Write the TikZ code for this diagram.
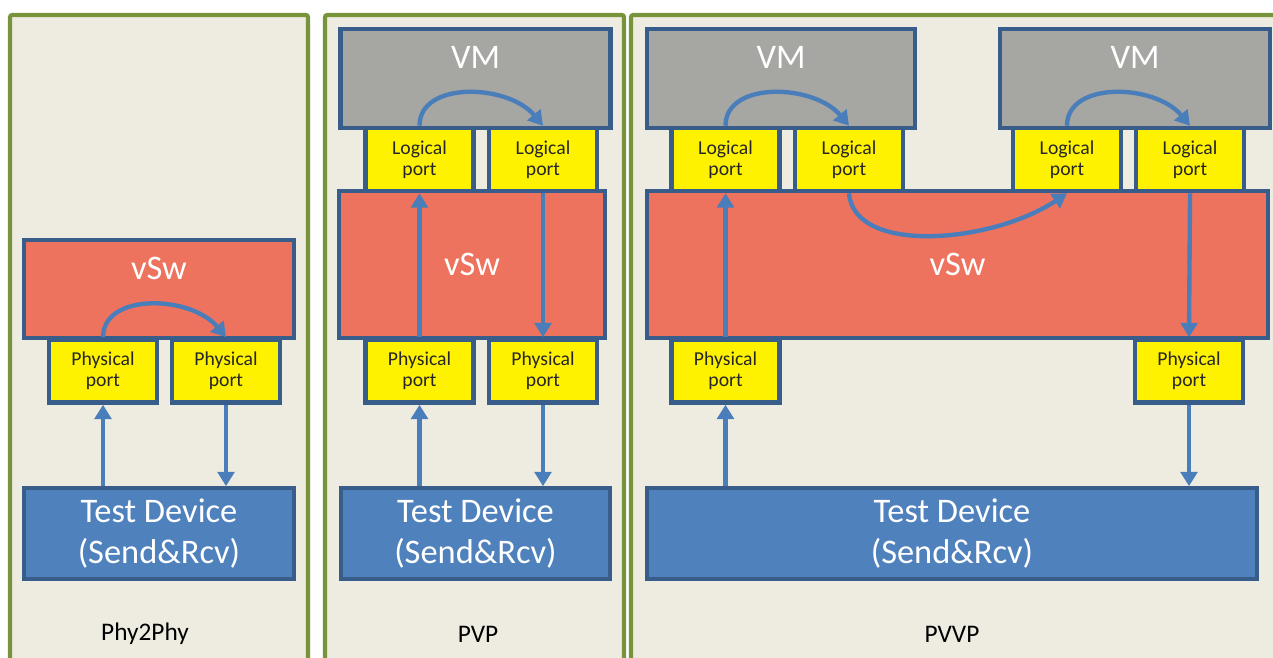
\documentclass[tikz,border=0pt]{standalone}
\usepackage{fontspec}
\setmainfont{Carlito}
\usetikzlibrary{arrows.meta, positioning}

\definecolor{panelgreen}{HTML}{77933C}
\definecolor{panelbg}{HTML}{EEEBE1}
\definecolor{boxblue}{HTML}{385D8A}
\definecolor{devblue}{HTML}{4F81BD}
\definecolor{arrowblue}{HTML}{4A7EBB}
\definecolor{vswred}{HTML}{EE735E}
\definecolor{vmgray}{HTML}{A6A6A2}

\begin{document}
\begin{tikzpicture}[x=0.025cm, y=-0.025cm]
    % --- Canvas ---
    \useasboundingbox (0,0) rectangle (1273,657);
    \clip (0,0) rectangle (1273,657);
    \fill[white] (0,0) rectangle (1273,657);

    % --- Styles ---
    \tikzstyle{panel_frame}=[draw=panelgreen, fill=panelbg, line width=2.9pt, rounded corners=1.5pt]
    \tikzstyle{big_text}=[text=white, font=\fontsize{24.5}{29.5}\selectfont, align=center]
    \tikzstyle{vsw_box}=[draw=boxblue, fill=vswred, line width=3.2pt, rectangle, inner sep=0pt, big_text]
    \tikzstyle{vm_box}=[draw=boxblue, fill=vmgray, line width=3.2pt, rectangle, inner sep=0pt,
        minimum width=6.75cm, minimum height=2.475cm]
    \tikzstyle{dev_box}=[draw=boxblue, fill=devblue, line width=2.6pt, rectangle, inner sep=0pt,
        minimum height=2.275cm, big_text]
    \tikzstyle{port_box}=[draw=boxblue, fill=yellow, line width=3.2pt, rectangle, inner sep=0pt,
        minimum width=2.7cm, minimum height=1.575cm, align=center,
        font=\fontsize{14}{15}\selectfont, text=black!85]
    \tikzstyle{top_text}=[big_text, anchor=center, yshift=-0.76cm]
    \tikzstyle{case_name}=[font=\fontsize{18}{22}\selectfont, text=black]
    \tikzstyle{link_arrow}=[-{Triangle[length=0.36cm, width=0.42cm]}, draw=arrowblue, line width=3.1pt]

    % --- 1. Panels ---
    \draw[panel_frame] (10,15) rectangle (308,700);
    \draw[panel_frame] (325,15) rectangle (624,700);
    \draw[panel_frame] (631,15) rectangle (1300,700);

    % --- 2. Phy2Phy ---
    \node[vsw_box, minimum width=6.75cm, minimum height=2.45cm,
        label={[top_text]north:vSw}] (vsw1) at (159,289) {};
    \node[port_box] (pp1a) at (103,371) {Physical\\port};
    \node[port_box] (pp1b) at (226,371) {Physical\\port};
    \node[dev_box, minimum width=6.75cm] (td1) at (159,533.5) {Test Device\\(Send\&Rcv)};
    \node[case_name] (name1) at (145,634) {Phy2Phy};

    \draw[link_arrow] (pp1a.south |- td1.north) -- (pp1a.south);
    \draw[link_arrow] (pp1b.south) -- (pp1b.south |- td1.north);
    \draw[link_arrow] (pp1a.north) .. controls +(0,-45) and +(-35,-42) .. (pp1b.north);

    % --- 3. PVP ---
    \node[vm_box, label={[top_text]north:VM}] (vm2) at (475.5,78.5) {};
    \node[vsw_box, minimum width=6.65cm, minimum height=3.675cm] (vsw2) at (472,264.5) {vSw};
    \node[port_box] (lp2a) at (419.5,159.5) {Logical\\port};
    \node[port_box] (lp2b) at (543,159.5) {Logical\\port};
    \node[port_box] (pp2a) at (419.5,371) {Physical\\port};
    \node[port_box] (pp2b) at (543,371) {Physical\\port};
    \node[dev_box, minimum width=6.725cm] (td2) at (475.5,533.5) {Test Device\\(Send\&Rcv)};
    \node[case_name] (name2) at (478,634) {PVP};

    \draw[link_arrow] (pp2a.south |- td2.north) -- (pp2a.south);
    \draw[link_arrow] (pp2a.north) -- (lp2a.south);
    \draw[link_arrow] (lp2a.north) .. controls +(0,-45) and +(-35,-42) .. (lp2b.north);
    \draw[link_arrow] (lp2b.south) -- (pp2b.north);
    \draw[link_arrow] (pp2b.south) -- (pp2b.south |- td2.north);

    % --- 4. PVVP ---
    \node[vm_box, minimum width=6.7cm, label={[top_text]north:VM}] (vm3a) at (781,78.5) {};
    \node[vm_box, label={[top_text]north:VM}] (vm3b) at (1135,78.5) {};
    \node[vsw_box, minimum width=15.525cm, minimum height=3.675cm] (vsw3) at (957.5,264.5) {vSw};
    \node[port_box] (lp3a) at (725.5,159.5) {Logical\\port};
    \node[port_box] (lp3b) at (849,159.5) {Logical\\port};
    \node[port_box] (lp3c) at (1067,159.5) {Logical\\port};
    \node[port_box] (lp3d) at (1190,159.5) {Logical\\port};
    \node[port_box] (pp3a) at (725.5,371) {Physical\\port};
    \node[port_box] (pp3b) at (1189,371) {Physical\\port};
    \node[dev_box, minimum width=15.25cm] (td3) at (952,533.5) {Test Device\\(Send\&Rcv)};
    \node[case_name] (name3) at (952,634) {PVVP};

    \draw[link_arrow] (pp3a.south |- td3.north) -- (pp3a.south);
    \draw[link_arrow] (pp3a.north) -- (lp3a.south);
    \draw[link_arrow] (lp3a.north) .. controls +(0,-45) and +(-35,-42) .. (lp3b.north);
    \draw[link_arrow] (lp3b.south) .. controls +(5,62) and +(-75,50) .. (lp3c.south);
    \draw[link_arrow] (lp3c.north) .. controls +(0,-45) and +(-35,-42) .. (lp3d.north);
    \draw[link_arrow] (lp3d.south) -- (pp3b.north);
    \draw[link_arrow] (pp3b.south) -- (pp3b.south |- td3.north);

\end{tikzpicture}
\end{document}
